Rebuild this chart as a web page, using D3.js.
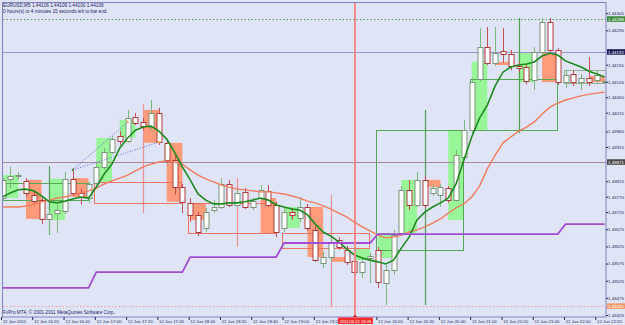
<!DOCTYPE html>
<html><head><meta charset="utf-8">
<script src="https://cdn.jsdelivr.net/npm/d3@7"></script>
<style>
html,body{margin:0;padding:0;background:#dfe4f6;overflow:hidden;}
svg{display:block;font-family:"Liberation Sans",Arial,sans-serif;}
</style></head><body>
<svg id="c" width="625" height="325"></svg>
<script>
// ---------- DATA ----------
const symbolTitle = "EURUSD,M5  1.44106 1.44109 1.44100 1.44106";
const subTitle = "0 hours(s) or 4 minutes 15 seconds left to bar end";
const footer = "FxPro MT4, \u00A9 2001-2011 MetaQuotes Software Corp.";
const cursorLabel = "2011.06.12 19:46";
const cursorBar = 45.2; // 19:46 in M5 bars from 16:00

const times = ["16:00","16:05","16:10","16:15","16:20","16:25","16:30","16:35","16:40","16:45","16:50","16:55",
"17:00","17:05","17:10","17:15","17:20","17:25","17:30","17:35","17:40","17:45","17:50","17:55",
"18:00","18:05","18:10","18:15","18:20","18:25","18:30","18:35","18:40","18:45","18:50","18:55",
"19:00","19:05","19:10","19:15","19:20","19:25","19:30","19:35","19:40","19:45","19:50","19:55",
"20:00","20:05","20:10","20:15","20:20","20:25","20:30","20:35","20:40","20:45","20:50","20:55",
"21:00","21:05","21:10","21:15","21:20","21:25","21:30","21:35","21:40","21:45","21:50","21:55",
"22:00","22:05","22:10","22:15","22:20","22:25"];

const open = [1.43766,1.43822,1.43830,1.43816,1.43775,1.43760,1.43705,1.43722,1.43728,1.43822,1.43781,1.43766,
1.43810,1.43857,1.43900,1.43947,1.43932,1.44002,1.43988,1.43973,1.44014,1.43927,1.43877,1.43798,
1.43752,1.43717,1.43679,1.43731,1.43740,1.43807,1.43746,1.43784,1.43740,1.43766,1.43787,1.43746,
1.43679,1.43725,1.43708,1.43740,1.43673,1.43577,1.43594,1.43644,1.43615,1.43583,1.43550,1.43591,
1.43615,1.43518,1.43556,1.43664,1.43790,1.43746,1.43819,1.43781,1.43775,1.43795,1.43760,1.43886,
1.43964,1.44113,1.44206,1.44160,1.44195,1.44186,1.44151,1.44148,1.44110,1.44192,1.44279,1.44198,
1.44104,1.44128,1.44104,1.44116,1.44110,1.44106];
const high = [1.43824,1.43857,1.43842,1.43824,1.43784,1.43766,1.43731,1.43746,1.43842,1.43854,1.43795,1.43813,
1.43868,1.43912,1.43947,1.43961,1.44023,1.44014,1.43999,1.44052,1.44029,1.43935,1.43891,1.43807,
1.43766,1.43725,1.43737,1.43760,1.43824,1.43819,1.43790,1.43795,1.43766,1.43804,1.43804,1.43755,
1.43737,1.43737,1.43769,1.43749,1.43685,1.43609,1.43650,1.43652,1.43626,1.43591,1.43591,1.43606,
1.43623,1.43571,1.43673,1.43801,1.43819,1.43842,1.43830,1.43807,1.43807,1.43801,1.43906,1.43994,
1.44116,1.44262,1.44265,1.44265,1.44262,1.44198,1.44163,1.44157,1.44206,1.44291,1.44291,1.44203,
1.44139,1.44139,1.44128,1.44177,1.44139,1.44109];
const low = [1.43760,1.43795,1.43819,1.43769,1.43746,1.43690,1.43658,1.43664,1.43720,1.43772,1.43746,1.43752,
1.43804,1.43848,1.43894,1.43921,1.43927,1.43979,1.43964,1.43964,1.43921,1.43868,1.43775,1.43722,
1.43696,1.43655,1.43667,1.43722,1.43734,1.43740,1.43740,1.43734,1.43731,1.43760,1.43740,1.43652,
1.43667,1.43702,1.43696,1.43670,1.43580,1.43562,1.43580,1.43615,1.43571,1.43539,1.43533,1.43518,
1.43504,1.43454,1.43542,1.43655,1.43731,1.43740,1.43737,1.43772,1.43740,1.43752,1.43755,1.43877,
1.43956,1.44107,1.44154,1.44151,1.44160,1.44139,1.44133,1.44098,1.44081,1.44186,1.44192,1.44096,
1.44087,1.44093,1.44081,1.44093,1.44098,1.44100];
const close = [1.43819,1.43830,1.43833,1.43781,1.43757,1.43705,1.43720,1.43731,1.43822,1.43781,1.43769,1.43807,
1.43857,1.43900,1.43938,1.43932,1.43999,1.43985,1.43976,1.44014,1.43929,1.43877,1.43798,1.43755,
1.43717,1.43667,1.43725,1.43740,1.43807,1.43746,1.43781,1.43740,1.43757,1.43790,1.43746,1.43667,
1.43725,1.43717,1.43740,1.43679,1.43585,1.43594,1.43638,1.43623,1.43580,1.43550,1.43580,1.43597,
1.43521,1.43556,1.43658,1.43790,1.43746,1.43819,1.43746,1.43795,1.43798,1.43760,1.43891,1.43964,
1.44104,1.44206,1.44160,1.44189,1.44186,1.44151,1.44145,1.44107,1.44192,1.44279,1.44198,1.44104,
1.44125,1.44104,1.44116,1.44104,1.44125,1.44106];

const fastMA = [1.43769,1.43781,1.43790,1.43792,1.43787,1.43772,1.43755,1.43752,1.43757,1.43763,1.43769,1.43766,
1.43798,1.43836,1.43865,1.43912,1.43941,1.43964,1.43973,1.43976,1.43961,1.43938,1.43900,1.43857,
1.43819,1.43778,1.43760,1.43749,1.43749,1.43752,1.43752,1.43755,1.43760,1.43766,1.43760,1.43746,
1.43740,1.43734,1.43731,1.43717,1.43690,1.43667,1.43655,1.43638,1.43618,1.43600,1.43591,1.43585,
1.43580,1.43574,1.43585,1.43620,1.43652,1.43702,1.43725,1.43740,1.43752,1.43766,1.43807,1.43877,
1.43944,1.43999,1.44037,1.44093,1.44133,1.44148,1.44154,1.44157,1.44163,1.44180,1.44189,1.44183,
1.44166,1.44157,1.44148,1.44136,1.44128,1.44119];
const slowMA = [1.43740,1.43740,1.43740,1.43743,1.43749,1.43755,1.43760,1.43766,1.43769,1.43775,1.43781,1.43787,
1.43795,1.43807,1.43816,1.43824,1.43833,1.43845,1.43857,1.43865,1.43871,1.43874,1.43871,1.43865,
1.43848,1.43833,1.43822,1.43813,1.43804,1.43798,1.43792,1.43790,1.43787,1.43784,1.43784,1.43781,
1.43778,1.43772,1.43766,1.43757,1.43752,1.43743,1.43734,1.43722,1.43711,1.43696,1.43682,1.43670,
1.43658,1.43650,1.43652,1.43658,1.43667,1.43673,1.43682,1.43693,1.43705,1.43722,1.43737,1.43749,
1.43769,1.43801,1.43851,1.43891,1.43927,1.43944,1.43961,1.43973,1.43988,1.44011,1.44031,1.44043,
1.44052,1.44058,1.44064,1.44069,1.44072,1.44075];
const stepLine = [1.43504,1.43504,1.43504,1.43504,1.43504,1.43504,1.43504,1.43504,1.43504,1.43504,1.43504,1.43504,
1.43550,1.43550,1.43550,1.43550,1.43550,1.43550,1.43550,1.43550,1.43550,1.43550,1.43550,1.43550,
1.43594,1.43594,1.43594,1.43594,1.43594,1.43594,1.43594,1.43594,1.43594,1.43594,1.43594,1.43594,
1.43635,1.43635,1.43635,1.43635,1.43635,1.43635,1.43635,1.43635,1.43635,1.43635,1.43635,1.43635,
1.43661,1.43661,1.43661,1.43661,1.43661,1.43661,1.43661,1.43661,1.43661,1.43661,1.43661,1.43661,
1.43661,1.43661,1.43661,1.43661,1.43661,1.43661,1.43661,1.43661,1.43661,1.43661,1.43661,1.43661,
1.43690,1.43690,1.43690,1.43690,1.43690,1.43690];

// M15 bodies
const m15Start = [0,3,6,9,12,15,18,21,24,33,36,39,42,45,48,51,54,57,60,63,66,69,75];
const m15Open  = [1.43766,1.43819,1.43702,1.43824,1.43813,1.43941,1.44023,1.43927,1.43752,1.43766,1.43679,1.43740,1.43594,1.43585,1.43591,1.43664,1.43819,1.43702,1.43964,1.44163,1.44104,1.44189,1.44122];
const m15Close = [1.43833,1.43705,1.43822,1.43769,1.43941,1.43994,1.43927,1.43755,1.43702,1.43664,1.43740,1.43594,1.43580,1.43620,1.43664,1.43819,1.43798,1.43964,1.44163,1.44154,1.44192,1.44104,1.44104];

// H1 boxes
const hourStart = [0,12,24,36,48,60,72];
const hourOpen  = [1.43760,1.43813,1.43752,1.43664,1.43615,1.43964,1.44101];
const hourClose = [1.43810,1.43752,1.43664,1.43620,1.43964,1.44113,1.44139];
const hourHigh  = [1.43859,1.44040,1.43824,1.43775,1.44023,1.44291,null];
const hourLow   = [1.43658,1.43722,1.43623,1.43448,1.43454,1.43956,null];

// horizontal levels
const levels = [1.44288,1.44192,1.43871,1.43451];

// trend lines (bar index, price)
const trendFromBar = [9,9], trendFromPrice = [1.43848,1.43848];
const trendToBar = [16,20], trendToPrice = [1.43988,1.43929];

const priceTicks = [1.44305,1.44255,1.44155,1.44105,1.44060,1.44015,1.43960,1.43915,1.43815,1.43770,1.43725,1.43675,1.43625,1.43575,1.43525,1.43475,1.43425];
// the 19:40 label lies under the cursor's time box in the reference
const timeTickBars = [0,4,8,12,16,20,24,28,32,36,40,48,52,56,60,64,68,72,76];
const timeTickLabels = ["12 Jun 2011","12 Jun 16:20","12 Jun 16:40","12 Jun 17:00","12 Jun 17:20","12 Jun 17:40","12 Jun 18:00","12 Jun 18:20","12 Jun 18:40","12 Jun 19:00","12 Jun 19:20","12 Jun 20:00","12 Jun 20:20","12 Jun 20:40","12 Jun 21:00","12 Jun 21:20","12 Jun 21:40","12 Jun 22:00","12 Jun 22:20"];

// ---------- DRAW ----------
const W = 625, H = 325;
const svg = d3.select("#c");
const x = d3.scaleLinear().domain([0, times.length - 1]).range([2.5, 2.5 + 77 * 7.82]);
const y = d3.scaleLinear().domain([1.43425, 1.44105]).range([315, 81.8]);
const FONT = '"Liberation Sans",Arial,sans-serif';
const TXT = "#262662";

svg.append("rect").attr("width", W).attr("height", H).attr("fill", "#dfe4f6");
svg.append("defs").append("clipPath").attr("id", "clip")
  .append("rect").attr("x", 3).attr("y", 3).attr("width", 603).attr("height", 314);
const g = svg.append("g").attr("clip-path", "url(#clip)");

// M15 fills
const m15 = m15Start.map((s, k) => ({ s, o: m15Open[k], c: m15Close[k] }));
g.selectAll("rect.m15").data(m15).join("rect").attr("class", "m15")
  .attr("x", d => x(d.s)).attr("width", d => x(d.s + 2) - x(d.s))
  .attr("y", d => y(Math.max(d.o, d.c)))
  .attr("height", d => Math.max(1.5, Math.abs(y(d.o) - y(d.c))))
  .attr("fill", d => d.c >= d.o ? "#98f598" : "#ff9b7b");

// level lines
const levelColor = ["#5e9e5e", "#9a92cc", "#a8899a", "#f0a0a0"];
const levelDash = ["1.5,2", null, null, "1.5,2"];
g.selectAll("line.lvl").data(levels).join("line").attr("class", "lvl")
  .attr("x1", 3).attr("x2", 606)
  .attr("y1", d => Math.round(y(d)) + 0.5).attr("y2", d => Math.round(y(d)) + 0.5)
  .attr("stroke", (d, i) => levelColor[i]).attr("stroke-width", 1)
  .attr("stroke-dasharray", (d, i) => levelDash[i]);

// hour boxes
const hours = hourStart.map((s, k) => ({ s, o: hourOpen[k], c: hourClose[k], h: hourHigh[k], l: hourLow[k], cur: k === hourStart.length - 1 }));
const hourCol = d => d.cur ? "#94b494" : (d.c >= d.o ? "#55a655" : "#ee7466");
g.selectAll("line.hl").data(hours.filter(d => d.h !== null)).join("line").attr("class", "hl")
  .attr("x1", d => Math.round(x(d.s + 6)) + 0.5).attr("x2", d => Math.round(x(d.s + 6)) + 0.5)
  .attr("y1", d => y(d.h)).attr("y2", d => y(d.l))
  .attr("stroke", d => d.c >= d.o ? "#4f9f4f" : "#f09098").attr("stroke-width", 1.2);
g.selectAll("rect.hb").data(hours).join("rect").attr("class", "hb")
  .attr("x", d => Math.round(x(d.s)) - 1.5)
  .attr("width", d => Math.round(x(d.s + 11)) - Math.round(x(d.s)) + 1)
  .attr("y", d => Math.round(y(Math.max(d.o, d.c))) + 0.5)
  .attr("height", d => Math.abs(Math.round(y(d.o)) - Math.round(y(d.c))))
  .attr("fill", "none").attr("stroke", hourCol).attr("stroke-width", 1);

// candles
const bars = times.map((t, i) => ({ i, o: open[i], h: high[i], l: low[i], c: close[i] }));
const up = d => d.c >= d.o;
g.selectAll("line.wick").data(bars).join("line").attr("class", "wick")
  .attr("x1", d => Math.round(x(d.i)) + 0.5).attr("x2", d => Math.round(x(d.i)) + 0.5)
  .attr("y1", d => y(d.h)).attr("y2", d => y(d.l))
  .attr("stroke", d => up(d) ? "#7cb87c" : "#c45252").attr("stroke-width", 1);
g.selectAll("rect.body").data(bars).join("rect").attr("class", "body")
  .attr("x", d => Math.round(x(d.i)) - 2)
  .attr("width", 5)
  .attr("y", d => Math.round(y(Math.max(d.o, d.c))) + 0.5)
  .attr("height", d => Math.max(1, Math.round(Math.abs(y(d.o) - y(d.c)))))
  .attr("fill", "#ffffff").attr("stroke", d => up(d) ? "#7a947a" : "#b03a3a").attr("stroke-width", 1);

// trend lines
const trends = trendFromBar.map((b, k) => ({ b0: b, p0: trendFromPrice[k], b1: trendToBar[k], p1: trendToPrice[k] }));
g.selectAll("line.tr").data(trends).join("line").attr("class", "tr")
  .attr("x1", d => x(d.b0)).attr("y1", d => y(d.p0)).attr("x2", d => x(d.b1)).attr("y2", d => y(d.p1))
  .attr("stroke", "#6f6fe0").attr("stroke-width", 1).attr("stroke-dasharray", "1,1.5");
g.selectAll("circle.tre").data(trends).join("circle").attr("class", "tre")
  .attr("cx", d => x(d.b1)).attr("cy", d => y(d.p1)).attr("r", 1.2).attr("fill", "#f0a040");
g.append("circle").attr("cx", x(trendFromBar[0])).attr("cy", y(trendFromPrice[0])).attr("r", 1.2).attr("fill", "#3a9a3a");

// moving averages
const line = d3.line().x((d, i) => x(i)).y(d => y(d));
g.append("path").datum(slowMA).attr("d", line).attr("fill", "none").attr("stroke", "#f47c5c").attr("stroke-width", 1.4);
g.append("path").datum(fastMA).attr("d", line).attr("fill", "none").attr("stroke", "#1d8a1d").attr("stroke-width", 1.6);
g.append("path").datum(stepLine).attr("d", line).attr("fill", "none").attr("stroke", "#a24ed4").attr("stroke-width", 1.8);

// cursor
const cx = x(cursorBar) - 1;
g.append("line").attr("x1", cx).attr("x2", cx).attr("y1", 3).attr("y2", 317)
  .attr("stroke", "#f48c8c").attr("stroke-width", 2);

// frame
svg.append("rect").attr("x", 2.5).attr("y", 2.5).attr("width", 603.5).attr("height", 314.5)
  .attr("fill", "none").attr("stroke", "#8282c2").attr("stroke-width", 1);

// right axis
const ay = svg.append("g").attr("transform", "translate(606,0)")
  .call(d3.axisRight(y).tickValues(priceTicks).tickSize(2).tickPadding(0).tickFormat(d3.format(".5f")));
ay.select(".domain").remove();
ay.attr("font-size", 4.4).attr("font-family", FONT).attr("color", TXT);

// level labels on the right axis
const boxFill = ["#3d8c3d", "#1e1e5a", "#4a4a4a", "#f39a6a"];
const lb = svg.selectAll("g.lb").data(levels).join("g").attr("class", "lb")
  .attr("transform", d => `translate(607,${y(d)})`);
lb.append("rect").attr("x", 0).attr("y", -2.8).attr("width", 18).attr("height", 5.6).attr("fill", (d, i) => boxFill[i]);
lb.append("text").attr("x", 1).attr("y", 1.6).attr("font-size", 4.4).attr("font-family", FONT)
  .attr("fill", "#ffffff").text(d => d.toFixed(5));

// bottom axis
const ax = svg.append("g").attr("transform", "translate(-1.5,317)")
  .call(d3.axisBottom(x).tickValues(timeTickBars).tickSize(3).tickPadding(0)
    .tickFormat((d, i) => timeTickLabels[i]));
ax.select(".domain").remove();
ax.attr("font-size", 4.3).attr("font-family", FONT).attr("color", TXT);
ax.selectAll("text").attr("text-anchor", "start").attr("x", 1.2);

// cursor time box
svg.append("rect").attr("x", cx - 17).attr("y", 317.5).attr("width", 35).attr("height", 6.5).attr("fill", "#ff2c2c");
svg.append("text").attr("x", cx + 0.5).attr("y", 322.8).attr("text-anchor", "middle")
  .attr("font-size", 4.1).attr("font-family", FONT).attr("fill", "#ffffff").text(cursorLabel);
svg.append("path").attr("d", `M${cx - 2},317 L${cx + 2},317 L${cx},314.5 Z`).attr("fill", "#c02020");

// titles
svg.append("text").attr("x", 3).attr("y", 7).attr("font-size", 4.7).attr("font-family", FONT).attr("fill", TXT).text(symbolTitle);
svg.append("text").attr("x", 3).attr("y", 12.5).attr("font-size", 4.7).attr("font-family", FONT).attr("fill", TXT).text(subTitle);
svg.append("text").attr("x", 3).attr("y", 313.5).attr("font-size", 4.7).attr("font-family", FONT).attr("fill", TXT).text(footer);
</script>
</body></html>
